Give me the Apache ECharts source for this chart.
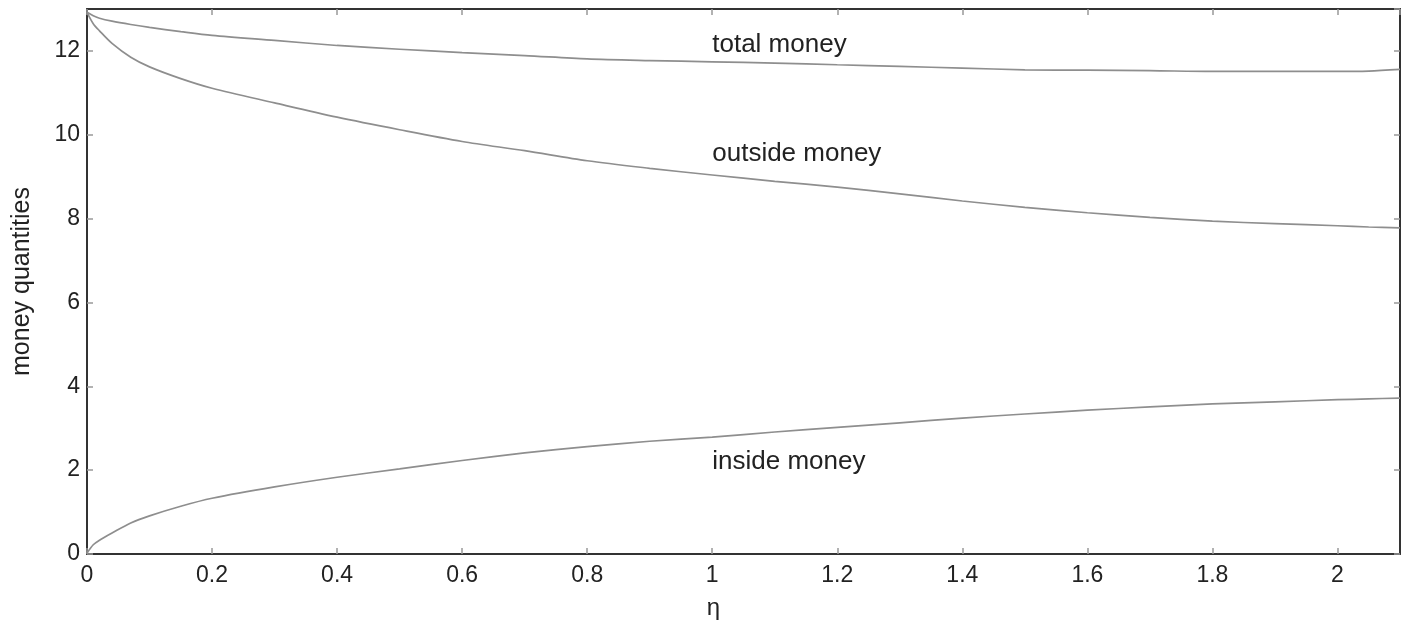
<!DOCTYPE html>
<html>
<head>
<meta charset="utf-8">
<script src="https://cdn.jsdelivr.net/npm/echarts@6/dist/echarts.min.js"></script>
<style>
  html, body { margin: 0; padding: 0; background: #fff; }
  #chart { width: 1410px; height: 632px; }
</style>
</head>
<body>
<div id="chart"></div>
<script>
// Money quantities as functions of eta
const eta = [0, 0.01, 0.02, 0.04, 0.07, 0.1, 0.15, 0.2, 0.3, 0.4, 0.5, 0.6, 0.7, 0.8, 0.9,
             1.0, 1.1, 1.2, 1.3, 1.4, 1.5, 1.6, 1.7, 1.8, 1.9, 2.0, 2.05, 2.1];
const totalMoney = [12.92, 12.84, 12.78, 12.71, 12.63, 12.56, 12.46, 12.37, 12.25, 12.13, 12.04, 11.96, 11.89, 11.81, 11.77,
                    11.74, 11.71, 11.67, 11.63, 11.59, 11.55, 11.54, 11.53, 11.51, 11.51, 11.51, 11.52, 11.56];
const outsideMoney = [12.92, 12.65, 12.48, 12.18, 11.85, 11.62, 11.34, 11.11, 10.76, 10.42, 10.12, 9.84, 9.62, 9.38, 9.20,
                      9.04, 8.89, 8.75, 8.59, 8.42, 8.27, 8.14, 8.03, 7.94, 7.88, 7.83, 7.80, 7.78];
const insideMoney = [0.02, 0.22, 0.33, 0.50, 0.74, 0.91, 1.14, 1.33, 1.60, 1.83, 2.03, 2.23, 2.41, 2.56, 2.69,
                     2.79, 2.91, 3.02, 3.13, 3.24, 3.34, 3.43, 3.51, 3.58, 3.63, 3.68, 3.70, 3.72];

// Curve annotations: [text, eta at left edge of text, value at text centre]
const curveLabels = [
  ['total money', 1.0, 12.14],
  ['outside money', 1.0, 9.55],
  ['inside money', 1.0, 2.19]
];

const FONT = '"Liberation Sans", Arial, Helvetica, sans-serif';
const pairs = ys => eta.map((x, i) => [x, ys[i]]);

const chart = echarts.init(document.getElementById('chart'));

const frameLine = { show: true, onZero: false, lineStyle: { color: '#333', width: 2 } };
const inTick = { show: true, inside: true, length: 6, lineStyle: { color: '#999', width: 1.5 } };

const lineSeries = (name, ys) => ({
  name, type: 'line', data: pairs(ys), smooth: 0.3, showSymbol: false, symbol: 'none',
  lineStyle: { color: '#8e8e8e', width: 1.7 }, silent: true, z: 3
});

chart.setOption({
  animation: false,
  backgroundColor: '#fff',
  grid: { left: 87, right: 10, top: 9, bottom: 78, containLabel: false, outerBoundsMode: 'none' },
  xAxis: [
    {
      type: 'value', min: 0, max: 2.1, interval: 0.2, position: 'bottom',
      name: 'η', nameLocation: 'middle', nameGap: 42,
      nameTextStyle: { fontFamily: FONT, fontSize: 24, color: '#222', padding: [0, 60, 0, 0] },
      axisLine: frameLine, axisTick: inTick, splitLine: { show: false },
      axisLabel: { fontFamily: FONT, fontSize: 23, color: '#222', margin: 10, showMaxLabel: false,
                   formatter: v => String(Math.round(v * 10) / 10) }
    },
    {
      type: 'value', min: 0, max: 2.1, interval: 0.2, position: 'top',
      axisLine: frameLine, axisTick: inTick, axisLabel: { show: false }, splitLine: { show: false }
    }
  ],
  yAxis: [
    {
      type: 'value', min: 0, max: 13, interval: 2, position: 'left',
      name: 'money quantities', nameLocation: 'middle', nameGap: 52, nameRotate: 90,
      nameTextStyle: { fontFamily: FONT, fontSize: 25, color: '#222' },
      axisLine: frameLine, axisTick: inTick, splitLine: { show: false },
      axisLabel: { fontFamily: FONT, fontSize: 23, color: '#222', margin: 7, showMaxLabel: false }
    },
    {
      type: 'value', min: 0, max: 13, interval: 2, position: 'right',
      axisLine: frameLine, axisTick: inTick, axisLabel: { show: false }, splitLine: { show: false }
    }
  ],
  series: [
    lineSeries('total money', totalMoney),
    lineSeries('outside money', outsideMoney),
    lineSeries('inside money', insideMoney)
  ]
});

// Place the annotations in data coordinates
chart.setOption({
  graphic: curveLabels.map(([text, x, y]) => {
    const p = chart.convertToPixel({ xAxisIndex: 0, yAxisIndex: 0 }, [x, y]);
    return {
      type: 'text', x: p[0], y: p[1], z: 10,
      style: { text, fontFamily: FONT, fontSize: 26, fill: '#222',
               textAlign: 'left', textVerticalAlign: 'middle' }
    };
  })
});
</script>
</body>
</html>
